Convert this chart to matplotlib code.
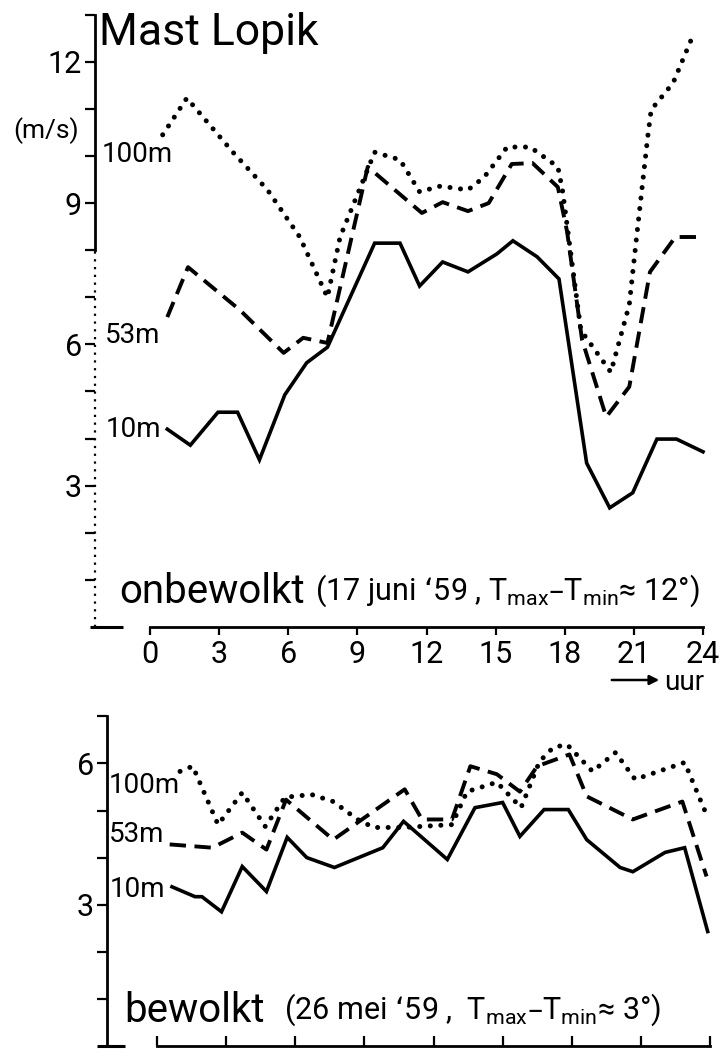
import matplotlib
matplotlib.use("Agg")
import matplotlib.pyplot as plt
from matplotlib.lines import Line2D
from matplotlib.patches import FancyArrowPatch
from matplotlib.ticker import FixedLocator, FuncFormatter

# onbewolkt (17 juni 1959): windsnelheid (m/s) per uur
uur_10m_on = [0.75, 1.75, 2.95, 3.8, 4.75, 5.85, 6.8, 7.7, 9.75, 10.85, 11.7, 12.7,
              13.8, 15.05, 15.75, 16.8, 17.75, 18.95, 19.95, 20.95, 22.0, 22.85, 24.0]
v_10m_on = [4.20, 3.86, 4.56, 4.56, 3.55, 4.93, 5.61, 5.94, 8.15, 8.15, 7.24, 7.75,
            7.54, 7.92, 8.20, 7.86, 7.39, 3.48, 2.53, 2.85, 3.99, 3.99, 3.72]

uur_53m_on = [0.75, 1.65, 3.9, 5.8, 6.65, 7.7, 9.45, 11.8, 12.7, 13.8, 14.7, 15.7,
              16.6, 17.7, 18.1, 18.75, 19.8, 20.8, 21.7, 22.8, 24.0]
v_53m_on = [6.58, 7.64, 6.73, 5.82, 6.14, 6.03, 9.77, 8.79, 9.02, 8.83, 9.00, 9.83,
            9.85, 9.34, 8.40, 6.10, 4.46, 5.10, 7.54, 8.28, 8.28]

uur_100m_on = [0.55, 1.6, 3.6, 5.1, 6.5, 7.7, 8.25, 9.75, 10.85, 11.7, 12.6, 13.8,
               14.5, 15.5, 16.5, 17.7, 17.9, 18.7, 20.0, 20.8, 21.1, 21.6, 21.75,
               22.7, 23.6]
v_100m_on = [10.45, 11.23, 10.08, 9.28, 8.28, 7.00, 8.28, 10.08, 9.92, 9.24, 9.36, 9.28,
             9.55, 10.19, 10.19, 9.77, 9.28, 6.30, 5.41, 6.84, 8.20, 10.40, 10.98,
             11.55, 12.60]

# bewolkt (26 mei 1959)
uur_10m_be = [0.65, 1.65, 1.95, 2.8, 3.7, 4.75, 5.65, 6.5, 7.7, 9.8, 10.7, 12.6,
              13.8, 15.0, 15.75, 16.8, 17.85, 18.65, 20.1, 20.65, 22.05, 22.9, 23.9]
v_10m_be = [3.38, 3.17, 3.17, 2.85, 3.81, 3.28, 4.43, 4.00, 3.79, 4.21, 4.77, 3.96,
            5.06, 5.17, 4.45, 5.02, 5.02, 4.38, 3.79, 3.70, 4.11, 4.21, 2.43]

uur_53m_be = [0.55, 2.4, 3.7, 4.75, 5.6, 7.65, 10.75, 11.5, 12.8, 13.6, 14.75, 15.75,
              16.5, 17.9, 18.65, 20.65, 22.8, 23.85]
v_53m_be = [4.28, 4.21, 4.53, 4.17, 5.23, 4.38, 5.45, 4.81, 4.81, 5.94, 5.77, 5.40,
            5.94, 6.19, 5.30, 4.81, 5.19, 3.60]

uur_100m_be = [1.0, 1.55, 2.65, 3.7, 4.7, 5.55, 6.7, 7.65, 8.7, 9.4, 10.7, 12.8,
               13.45, 14.75, 15.8, 16.6, 17.2, 17.8, 18.9, 19.9, 20.75, 22.9, 23.85]
v_100m_be = [5.83, 5.94, 4.70, 5.38, 4.66, 5.28, 5.34, 5.19, 4.81, 4.64, 4.64, 4.70,
             5.40, 5.60, 5.06, 6.04, 6.34, 6.40, 5.83, 6.23, 5.66, 6.02, 4.91]

uur_ticks = list(range(0, 25, 3))

W, H = 721, 1056
PX_UUR = 553 / 24   # pixels per uur
PX_MS = 47.1        # pixels per m/s

plt.rcParams["font.family"] = ["Roboto", "DejaVu Sans"]
plt.rcParams["mathtext.default"] = "regular"

fig = plt.figure(figsize=(W / 100, H / 100), dpi=100)


def fx(x):
    return x / W


def fy(y):
    return 1 - y / H


def ftext(x, y, s, **kw):
    kw.setdefault("va", "baseline")
    fig.text(fx(x), fy(y), s, **kw)


def fline(x1, x2, y, lw=2.2):
    fig.add_artist(Line2D([fx(x1), fx(x2)], [fy(y), fy(y)], transform=fig.transFigure,
                          color="black", lw=lw, solid_capstyle="butt"))


def panel(left, right, x0, y0, ymax, xdir):
    top = y0 - ymax * PX_MS
    ax = fig.add_axes([fx(left), fy(y0), (right - left) / W, (y0 - top) / H])
    ax.set_xlim((left - x0) / PX_UUR, (right - x0) / PX_UUR)
    ax.set_ylim(0, ymax)
    ax.patch.set_visible(False)
    for s in ("top", "right"):
        ax.spines[s].set_visible(False)
    ax.spines["bottom"].set_bounds(0, 24)
    ax.spines["bottom"].set_linewidth(2.0)
    ax.spines["left"].set_linewidth(2.0)
    ax.xaxis.set_major_locator(FixedLocator(uur_ticks))
    ax.yaxis.set_major_locator(FixedLocator(range(1, ymax + 1)))
    ax.yaxis.set_major_formatter(FuncFormatter(lambda v, p: f"{v:.0f}" if v % 3 == 0 else ""))
    ax.tick_params(axis="y", direction="out", length=7.5, width=1.6, pad=2, labelsize=22)
    ax.tick_params(axis="x", direction=xdir, length=5.5, width=1.6, pad=4, labelsize=22)
    return ax


def lijnen(ax, u10, v10, u53, v53, u100, v100):
    ax.plot(u10, v10, color="black", lw=2.6, solid_joinstyle="miter", clip_on=False)
    ax.plot(u53, v53, color="black", lw=2.8, ls=(0, (4.2, 2.2)), clip_on=False)
    ax.plot(u100, v100, color="black", lw=3.6, ls=(0, (0.01, 2.1)),
            dash_capstyle="round", clip_on=False)


# --- onbewolkt ---
ax1 = panel(95, 712, 150, 627, 13, "out")
ax1.spines["left"].set_bounds(8, 13)
ax1.plot([ax1.get_xlim()[0]] * 2, [0, 8], color="black", lw=1.6, ls=(0, (1, 2.5)), clip_on=False)
lijnen(ax1, uur_10m_on, v_10m_on, uur_53m_on, v_53m_on, uur_100m_on, v_100m_on)
fline(90, 123, 627)

ftext(99, 45, "Mast Lopik", fontsize=32)
ftext(46, 131, "(m/s)", fontsize=19, ha="center", va="center")
ftext(102, 162, "100m", fontsize=20)
ftext(105, 343, "53m", fontsize=20)
ftext(106, 437, "10m", fontsize=20)
ftext(119, 603, "onbewolkt", fontsize=29)
ftext(315, 600, "(17 juni \u201859 , T$_{max}$\u2013T$_{min}$\u2248 12\u00b0)", fontsize=22)
ftext(704, 690, "uur", fontsize=20, ha="right")
fig.patches.append(FancyArrowPatch(
    (fx(609), fy(680)), (fx(662), fy(680)), transform=fig.transFigure,
    arrowstyle="-|>", mutation_scale=14, lw=1.8, color="black"))

# --- bewolkt ---
ax2 = panel(107, 718, 157, 1046, 7, "in")
ax2.tick_params(axis="x", labelbottom=False, length=7)
lijnen(ax2, uur_10m_be, v_10m_be, uur_53m_be, v_53m_be, uur_100m_be, v_100m_be)
fline(97, 125, 1046)

ftext(109, 793, "100m", fontsize=20)
ftext(109, 842, "53m", fontsize=20)
ftext(110, 897, "10m", fontsize=20)
ftext(124, 1022, "bewolkt", fontsize=29)
ftext(284, 1019, "(26 mei \u201859 ,  T$_{max}$\u2013T$_{min}$\u2248 3\u00b0)", fontsize=22)

fig.savefig("out.png", dpi=100, facecolor="white")
